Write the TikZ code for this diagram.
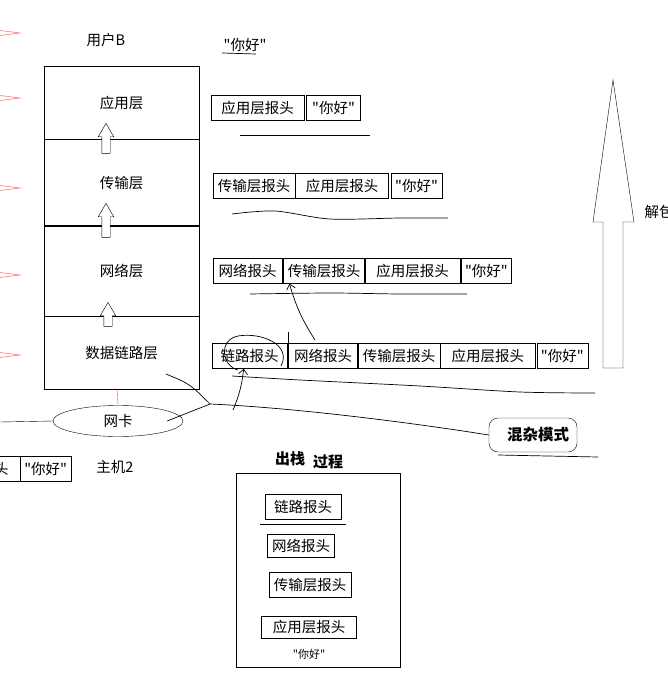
\documentclass[tikz,border=0pt]{standalone}
\usepackage{fontspec}
\setmainfont{Noto Sans CJK SC}[Ligatures=TeXOff]
\usepackage{tikz}
\usetikzlibrary{arrows.meta, positioning, shapes.geometric, shapes.arrows}

\newcommand{\nihao}{\symbol{34}你好\symbol{34}}

\tikzset{
  hdr/.style={draw, rectangle, minimum height=25pt, inner xsep=1pt, inner ysep=0pt},
  layer/.style={draw, rectangle, minimum width=155pt, inner sep=0pt},
  upblock/.style={draw, fill=white, single arrow, shape border rotate=90,
    minimum height=30pt, minimum width=15pt, inner sep=4pt,
    single arrow head extend=3.5pt, single arrow tip angle=60},
  redmark/.style={red!55, line width=0.6pt},
  hand/.style={line width=0.7pt},
}

\begin{document}
\begin{tikzpicture}[x=1pt, y=-1pt, font=\fontsize{14.5pt}{17pt}\selectfont]
        \useasboundingbox (0,0) rectangle (668,685);

        % red marks at the left
        \foreach \yy in {33,98,188,275,355}
            \draw[redmark] (0,\yy-2.5) -- (20,\yy) -- (0,\yy+2.5);

        % User B and the stack
        \node (userb) at (106,40) {用户B};
        \node[layer, minimum height=73pt, anchor=north west] (app) at (44,66) {应用层};
        \node[layer, minimum height=86pt, below=0pt of app] (trans) {传输层};
        \node[layer, minimum height=90pt, below=0pt of trans] (net) {网络层};
        \node[layer, minimum height=73pt, below=0pt of net] (link) {数据链路层};

        % arrows between the layers
        \node[upblock] (up1) at (106,142) {};
        \node[upblock, minimum height=34pt] (up2) at (106,224) {};
        \node[upblock, minimum height=24pt] (up3) at (108,318) {};

        % NIC
        \node[draw, ellipse, minimum width=130pt, minimum height=31pt] (nic) at (118,421) {网卡};
        \coordinate (wire) at (0,422);
        \draw (wire) -- (nic.west);
        \draw[red!70] (117,388) -- (nic.north);

        % message on top
        \node (msg) at (245,45) {\nihao};
        \draw[hand] (222,53) -- (256,54);

        % Packet rows
        \node[hdr, minimum width=93pt, anchor=west] (ap1) at (211,108) {应用层报头};
        \node[hdr, minimum width=54pt, right=2pt of ap1] (hi1) {\nihao};
        \draw[hand] (240,135) -- (370,135);

        \node[hdr, minimum width=82pt, anchor=west] (tr2) at (213,186) {传输层报头};
        \node[hdr, minimum width=93pt, right=0pt of tr2] (ap2) {应用层报头};
        \node[hdr, minimum width=51pt, right=2pt of ap2] (hi2) {\nihao};
        \draw[hand] plot[smooth] coordinates {(232,214) (275,211) (330,219) (400,218) (448,218)};

        \node[hdr, minimum width=69pt, anchor=west] (nw3) at (213,271) {网络报头};
        \node[hdr, minimum width=81pt, right=1pt of nw3] (tr3) {传输层报头};
        \node[hdr, minimum width=95pt, right=0pt of tr3] (ap3) {应用层报头};
        \node[hdr, minimum width=50pt, right=1pt of ap3] (hi3) {\nihao};
        \draw[hand] plot[smooth] coordinates {(250,294) (330,293) (400,294) (467,294)};

        \node[hdr, minimum width=75pt, anchor=west] (lk4) at (212,356) {链路报头};
        \node[hdr, minimum width=69pt, right=1pt of lk4] (nw4) {网络报头};
        \node[hdr, minimum width=82pt, right=0pt of nw4] (tr4) {传输层报头};
        \node[hdr, minimum width=95pt, right=0pt of tr4] (ap4) {应用层报头};
        \node[hdr, minimum width=51pt, right=1pt of ap4] (hi4) {\nihao};
        \draw[hand] plot[smooth] coordinates {(232,376) (300,380) (420,386) (520,392) (595,393)};
        \draw[hand] (288,332) -- (288,369);

        % circle round the link header
        \draw[hand] (281,366) .. controls (292,345) and (262,332) .. (238,336)
                    .. controls (218,340) and (222,366) .. (238,370);

        % arrows up between the rows
        \coordinate (a1) at (233,410);
        \coordinate (a2) at (315,340);
        \draw[hand, -{Straight Barb[length=5pt, width=9pt]}] (a1) to[bend right=8] ([xshift=-6pt]lk4.south);
        \draw[hand, -{Straight Barb[length=5pt, width=9pt]}] (a2) to[bend left=8] ([xshift=6pt]tr3.south west);

        % Promiscuous mode
        \node[draw, rounded corners=9pt, minimum width=88pt, minimum height=34pt,
              font=\fontsize{15.5pt}{18pt}\selectfont\bfseries] (mix) at (533,435) {\hspace{10pt}混杂模式};
        \coordinate (j) at (210,404);
        \draw[hand] (166,374) .. controls (190,384) .. (j);
        \draw[hand] ([xshift=-16pt]nic.east) -- (j);
        \draw[hand] (j) .. controls (300,408) and (420,424) .. (mix.west);
        \draw[hand] (498,455) -- (598,457);

        % Unpacking arrow
        \draw (603,368) -- (603,222) -- (593,222) -- (613,80) -- (634,222)
              -- (623,222) -- (623,368) -- cycle;
        \node[anchor=west] (unpack) at (641,212) {解包};

        % host 2 remains
        \node[hdr, minimum width=95pt, anchor=east] (ap5) at (20,469) {应用层报头};
        \node[hdr, minimum width=51pt, right=0pt of ap5] (hi5) {\nihao};
        \node (host) at (115,467) {主机2};

        % stack out
        \node[font=\fontsize{15pt}{18pt}\selectfont\bfseries] (outa) at (290,459) {出栈};
        \node[font=\fontsize{15pt}{18pt}\selectfont\bfseries] (outb) at (328,462) {过程};
        \node[draw, rectangle, minimum width=164pt, minimum height=194pt] (outbox) at (318,570) {};
        \node[hdr, minimum width=76pt] (olk) at (303,507) {链路报头};
        \draw[hand] (260,524) -- (346,524);
        \node[hdr, minimum width=67pt, minimum height=23pt] (onw) at (301,546) {网络报头};
        \node[hdr, minimum width=82pt] (otr) at (310,585) {传输层报头};
        \node[hdr, minimum width=95pt, minimum height=22pt] (oap) at (309,627) {应用层报头};
        \node[font=\fontsize{11pt}{13pt}\selectfont] (ohi) at (309,654) {\nihao};
\end{tikzpicture}
\end{document}
